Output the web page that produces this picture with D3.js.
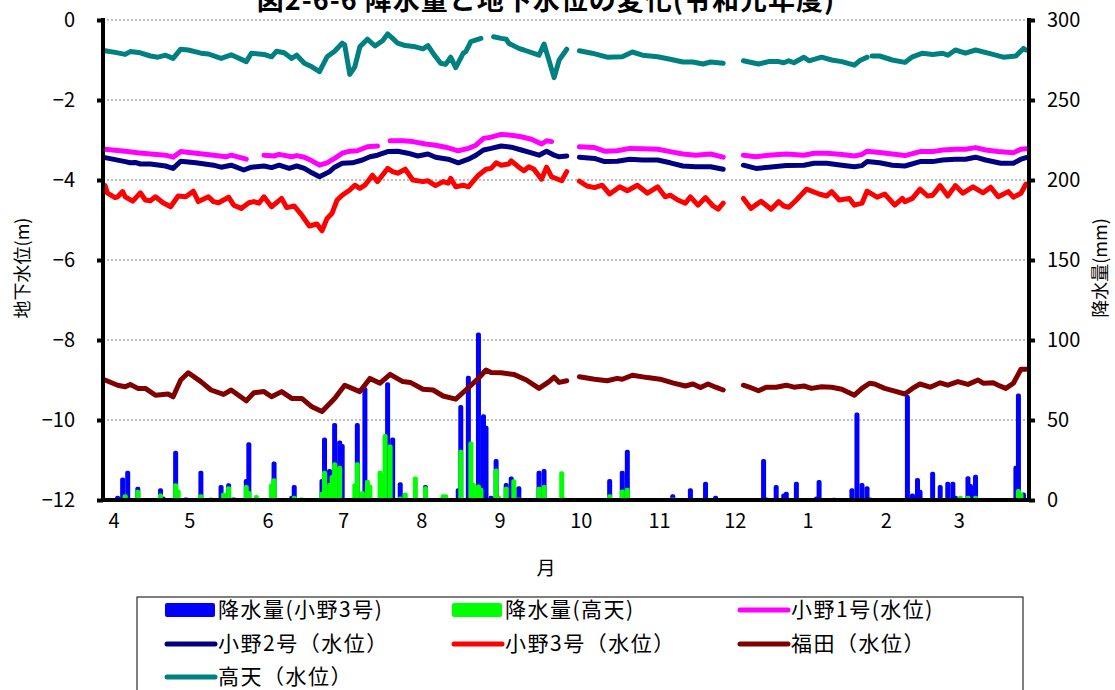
<!DOCTYPE html>
<html><head><meta charset="utf-8">
<script src="https://cdn.jsdelivr.net/npm/d3@7"></script>
<style>
body{margin:0;background:#fff;}
text{font-family:"Noto Sans CJK JP","Noto Sans",sans-serif;fill:#000;}
</style>
</head><body>
<svg id="chart" width="1115" height="690"></svg>
<script>
// ---------- DATA ----------
const titleText = "図2-6-6 降水量と地下水位の変化(令和元年度)";
const monthLabels = ["4","5","6","7","8","9","10","11","12","1","2","3"];
const monthStartDays = [0,30,61,91,122,153,183,214,244,275,306,335];
const levelTicks = [0,-2,-4,-6,-8,-10,-12];
const rainTicks = [0,50,100,150,200,250,300];

// daily rainfall [day index from Apr 1, mm]
const rainOno3 = [[5,2],[7,13.5],[9,17.7],[13,7.7],[22,6.7],[23,1.5],[28,30.2],[32,1],[38,17.7],[46,8.75],[49,9.8],[51,1],[56,12.5],[57,35.4],[67,23.5],[74,2],[75,8.75],[86,12.5],[87,38.5],[89,18.75],[91,47.5],[93,36.5],[94,34.4],[100,47.5],[103,69.8],[112,72.9],[114,38.5],[117,10.4],[127,8.75],[140,6.7],[141,58.75],[144,77],[148,104],[150,53],[151,45.8],[153,2],[155,25],[159,10],[161,14],[164,8],[172,17.7],[174,18.75],[200,12.5],[205,17.7],[207,30.8],[225,3],[232,6.7],[238,10.8],[242,2],[261,25],[262,1],[266,8.75],[269,3.5],[270,4.6],[274,10.8],[282,1.5],[283,11.9],[289,0.8],[296,6.7],[298,54],[300,10],[302,8],[303,1],[318,65],[320,3.5],[322,13.1],[323,5.8],[328,17],[331,8.75],[334,10.8],[336,10.8],[337,2],[342,14.2],[343,9.4],[345,15.2],[361,20.8],[362,66],[364,4]];
const rainTakama = [[8,3],[13,5.8],[22,3.5],[28,9.8],[29,6],[38,3],[42,1],[47,4],[49,7.9],[56,8.75],[57,5],[60,2.5],[66,9.8],[67,12.9],[75,2],[78,1],[86,4.5],[87,17.7],[89,10],[90,15],[91,22.9],[93,20.8],[99,9.8],[100,22.9],[102,5],[104,12],[105,9],[109,17.7],[110,16],[111,40.6],[113,34],[117,1.5],[119,4],[123,14],[127,8],[134,3],[135,3],[141,30.8],[145,36],[146,10],[148,9],[149,7],[155,19],[156,2],[159,7.7],[162,12.3],[164,1],[172,7.7],[174,8.75],[181,17.3],[182,1],[200,3],[205,6],[207,7],[225,1],[226,0.5],[228,0.5],[232,0.5],[339,2],[342,2],[345,2],[350,0.5],[362,6.25],[363,4]];

// groundwater level [day index, m]; null = missing
const levelOno1 = [[0,-3.23],[8,-3.28],[13,-3.32],[18,-3.35],[24,-3.38],[27,-3.43],[30,-3.29],[36,-3.33],[43,-3.38],[48,-3.42],[50,-3.38],[56,-3.48],[59,null],[63,-3.38],[67,-3.4],[69,-3.36],[74,-3.42],[76,-3.39],[79,-3.43],[82,-3.52],[85,-3.63],[88,-3.57],[91,-3.46],[94,-3.33],[97,-3.28],[100,-3.27],[104,-3.17],[108,-3.15],[110,null],[113,-3.02],[118,-3.02],[122,-3.04],[127,-3.1],[131,-3.13],[135,-3.18],[140,-3.27],[144,-3.21],[147,-3.13],[150,-2.96],[153,-2.93],[157,-2.86],[161,-2.88],[165,-2.92],[169,-2.98],[173,-3.1],[175,-3.02],[177,-3.04],[178,null],[188,-3.17],[194,-3.19],[198,-3.28],[203,-3.27],[208,-3.21],[213,-3.22],[219,-3.23],[224,-3.29],[229,-3.35],[234,-3.38],[240,-3.35],[245,-3.43],[246,null],[253,-3.38],[258,-3.42],[263,-3.38],[270,-3.35],[277,-3.38],[281,-3.33],[286,-3.33],[292,-3.36],[297,-3.4],[300,-3.36],[302,-3.28],[307,-3.31],[312,-3.35],[317,-3.39],[323,-3.29],[328,-3.29],[332,-3.25],[337,-3.23],[341,-3.23],[345,-3.19],[349,-3.25],[354,-3.29],[360,-3.32],[363,-3.23],[365,-3.22]];
const levelOno2 = [[0,-3.44],[8,-3.54],[10,-3.57],[12,-3.56],[14,-3.6],[18,-3.6],[24,-3.65],[27,-3.71],[30,-3.53],[36,-3.57],[43,-3.63],[46,-3.68],[50,-3.63],[55,-3.75],[58,-3.68],[63,-3.65],[66,-3.69],[69,-3.63],[73,-3.71],[76,-3.65],[79,-3.71],[82,-3.82],[85,-3.92],[89,-3.79],[91,-3.68],[94,-3.58],[98,-3.57],[102,-3.5],[105,-3.42],[108,-3.38],[112,-3.29],[116,-3.28],[120,-3.33],[124,-3.4],[128,-3.35],[131,-3.43],[136,-3.48],[140,-3.57],[144,-3.48],[147,-3.38],[150,-3.25],[153,-3.21],[157,-3.15],[161,-3.18],[165,-3.25],[169,-3.32],[172,-3.38],[175,-3.28],[178,-3.38],[180,-3.42],[183,-3.4],[184,null],[188,-3.43],[194,-3.46],[198,-3.54],[203,-3.53],[208,-3.48],[213,-3.5],[219,-3.5],[224,-3.57],[229,-3.65],[234,-3.67],[240,-3.67],[245,-3.73],[246,null],[253,-3.63],[258,-3.71],[263,-3.68],[270,-3.64],[277,-3.63],[281,-3.58],[286,-3.58],[292,-3.63],[297,-3.67],[300,-3.64],[302,-3.54],[307,-3.57],[312,-3.63],[317,-3.65],[323,-3.54],[328,-3.54],[332,-3.5],[337,-3.48],[341,-3.48],[345,-3.43],[349,-3.5],[355,-3.58],[360,-3.58],[363,-3.48],[365,-3.44]];
const levelOno3 = [[0,-4.14],[1,-4.33],[4,-4.44],[5,-4.42],[7,-4.29],[8,-4.42],[11,-4.53],[14,-4.32],[16,-4.5],[18,-4.52],[20,-4.42],[23,-4.57],[26,-4.67],[29,-4.4],[32,-4.42],[35,-4.28],[37,-4.54],[41,-4.42],[43,-4.54],[45,-4.57],[49,-4.43],[51,-4.63],[54,-4.71],[57,-4.57],[59,-4.54],[61,-4.58],[63,-4.42],[66,-4.67],[70,-4.46],[72,-4.69],[75,-4.65],[78,-4.88],[81,-5.15],[84,-5.1],[86,-5.27],[88,-4.96],[90,-4.83],[92,-4.5],[94,-4.38],[97,-4.25],[99,-4.13],[101,-4.21],[103,-4.13],[106,-3.88],[108,-4.04],[112,-3.71],[114,-3.79],[116,-3.83],[119,-3.73],[122,-4.0],[126,-4.04],[128,-4.02],[131,-4.14],[134,-4.04],[136,-4.08],[137,-3.96],[139,-4.17],[142,-4.13],[144,-4.17],[148,-3.88],[151,-3.73],[153,-3.71],[155,-3.57],[157,-3.63],[160,-3.6],[161,-3.52],[164,-3.68],[166,-3.77],[168,-3.67],[170,-3.73],[173,-3.98],[175,-3.68],[177,-3.92],[181,-4.02],[183,-3.79],[184,null],[188,-4.03],[191,-4.15],[194,-4.19],[197,-4.13],[200,-4.35],[204,-4.17],[207,-4.27],[211,-4.13],[215,-4.33],[219,-4.17],[222,-4.42],[224,-4.38],[227,-4.5],[230,-4.58],[232,-4.42],[235,-4.63],[238,-4.44],[241,-4.65],[243,-4.73],[245,-4.58],[246,null],[253,-4.46],[256,-4.71],[260,-4.53],[264,-4.73],[267,-4.54],[269,-4.65],[271,-4.68],[274,-4.5],[278,-4.23],[283,-4.35],[286,-4.4],[288,-4.29],[291,-4.5],[295,-4.46],[297,-4.63],[300,-4.58],[302,-4.28],[306,-4.43],[309,-4.35],[313,-4.63],[316,-4.46],[317,-4.54],[320,-4.46],[323,-4.23],[326,-4.4],[328,-4.38],[331,-4.14],[334,-4.4],[337,-4.14],[340,-4.33],[344,-4.17],[348,-4.32],[351,-4.18],[354,-4.42],[358,-4.29],[360,-4.43],[363,-4.33],[365,-4.1]];
const levelFukuda = [[0,-9.0],[5,-9.13],[8,-9.17],[10,-9.11],[13,-9.21],[16,-9.21],[20,-9.38],[25,-9.35],[27,-9.42],[30,-9.0],[33,-8.82],[38,-9.04],[42,-9.25],[47,-9.36],[50,-9.25],[56,-9.52],[59,-9.32],[63,-9.29],[66,-9.42],[70,-9.29],[74,-9.46],[78,-9.46],[82,-9.67],[86,-9.79],[91,-9.46],[95,-9.13],[101,-9.29],[105,-8.96],[109,-9.08],[113,-8.86],[118,-9.04],[121,-9.06],[126,-9.23],[130,-9.25],[134,-9.4],[139,-9.48],[143,-9.25],[148,-8.96],[151,-8.75],[153,-8.81],[157,-8.82],[162,-8.86],[167,-9.0],[172,-9.21],[176,-9.04],[178,-8.93],[180,-9.06],[183,-9.02],[184,null],[188,-8.92],[194,-8.98],[199,-9.02],[203,-8.96],[205,-8.98],[209,-8.88],[215,-8.94],[220,-8.98],[225,-9.07],[230,-9.15],[233,-9.1],[236,-9.19],[239,-9.1],[242,-9.18],[245,-9.25],[246,null],[253,-9.13],[255,-9.17],[259,-9.27],[262,-9.18],[266,-9.18],[270,-9.13],[273,-9.18],[277,-9.15],[280,-9.21],[284,-9.17],[288,-9.18],[292,-9.23],[297,-9.38],[300,-9.21],[303,-9.08],[305,-9.1],[309,-9.21],[313,-9.28],[317,-9.35],[320,-9.21],[323,-9.1],[327,-9.18],[331,-9.07],[334,-9.13],[338,-9.04],[342,-9.11],[346,-9.0],[348,-9.08],[352,-9.07],[354,-9.13],[357,-9.21],[360,-9.08],[363,-8.73],[365,-8.73]];
const levelTakama = [[0,-0.77],[4,-0.81],[8,-0.86],[10,-0.79],[14,-0.82],[18,-0.9],[21,-0.93],[24,-0.88],[27,-0.96],[30,-0.73],[33,-0.75],[38,-0.83],[41,-0.85],[46,-0.96],[50,-0.87],[56,-1.04],[58,-0.83],[63,-0.86],[66,-0.92],[68,-0.78],[71,-0.82],[74,-0.96],[76,-0.88],[79,-1.08],[82,-1.17],[85,-1.29],[88,-0.92],[91,-0.78],[94,-0.58],[95,-0.62],[97,-1.36],[99,-1.17],[101,-0.67],[104,-0.48],[107,-0.65],[110,-0.52],[112,-0.35],[114,-0.46],[116,-0.58],[119,-0.64],[123,-0.67],[126,-0.72],[128,-0.64],[130,-0.83],[133,-1.08],[135,-1.11],[137,-0.93],[139,-1.19],[142,-0.83],[143,-0.79],[145,-0.54],[149,-0.46],[150,null],[154,-0.42],[157,-0.46],[159,-0.48],[160,-0.58],[164,-0.71],[166,-0.75],[172,-0.88],[174,-0.6],[178,-1.44],[180,-1.0],[183,-0.73],[184,null],[188,-0.77],[193,-0.83],[199,-0.93],[205,-0.92],[209,-0.8],[213,-0.88],[219,-0.92],[224,-0.98],[229,-1.05],[233,-1.05],[237,-1.1],[240,-1.05],[245,-1.08],[246,null],[253,-1.02],[259,-1.1],[263,-1.04],[267,-1.04],[269,-1.07],[271,-1.02],[273,-1.07],[277,-0.93],[279,-1.02],[284,-0.93],[288,-1.0],[292,-1.04],[297,-1.13],[299,-1.02],[302,-0.93],[303,null],[304,-0.9],[307,-0.9],[312,-1.0],[317,-1.06],[320,-0.92],[324,-0.83],[328,-0.86],[332,-0.83],[334,-0.88],[337,-0.75],[341,-0.83],[345,-0.75],[350,-0.83],[356,-0.93],[361,-0.9],[364,-0.71],[365,-0.75]];

const legendLabels = ["降水量(小野3号)","降水量(高天)","小野1号(水位)","小野2号（水位）","小野3号（水位）","福田（水位）","高天（水位）"];

// ---------- STYLE / LAYOUT ----------
const plot = {left:103, right:1029, top:20, bottom:500};
const barColors = ["#0000FF","#00FF00"];
const lineColors = {ono1:"#FF00FF", ono2:"#000080", ono3:"#FF0000", fukuda:"#800000", takama:"#008080"};

const svg = d3.select("#chart");
const x = d3.scaleLinear().domain([0,365]).range([105,1026]);
const yL = d3.scaleLinear().domain([-12,0]).range([plot.bottom, plot.top]);
const yR = d3.scaleLinear().domain([0,300]).range([plot.bottom, plot.top]);

// title (partially clipped at the top, as in the reference)
svg.append("text").attr("x",546).attr("y",10).attr("text-anchor","middle")
  .style("font-size","27px").style("font-weight","bold").style("letter-spacing","1px").text(titleText);

// grid lines
svg.append("g").selectAll("line").data(levelTicks.filter(d=>d>-12)).join("line")
  .attr("x1",plot.left).attr("x2",plot.right)
  .attr("y1",d=>yL(d)).attr("y2",d=>yL(d))
  .attr("stroke","#808080").attr("stroke-width",1).attr("stroke-dasharray","2,2");

// bars
const barW = 5;
function drawBars(data,color){
  svg.append("g").selectAll("rect").data(data).join("rect")
    .attr("x",d=>x(d[0])-barW/2).attr("width",barW)
    .attr("y",d=>yR(d[1])-1).attr("height",d=>yR(0)-yR(d[1])+1)
    .attr("rx",2).attr("fill",color);
}
drawBars(rainOno3,barColors[0]);
drawBars(rainTakama,barColors[1]);

// lines
const line = d3.line().defined(d=>d[1]!==null).x(d=>x(d[0])).y(d=>yL(d[1]));
[[levelOno1,lineColors.ono1],[levelOno2,lineColors.ono2],[levelOno3,lineColors.ono3],[levelFukuda,lineColors.fukuda],[levelTakama,lineColors.takama]]
 .forEach(([data,c])=>{
   svg.append("path").datum(data).attr("d",line).attr("fill","none")
     .attr("stroke",c).attr("stroke-width",5)
     .attr("stroke-linejoin","round").attr("stroke-linecap","round");
 });

// axes
const axL = d3.axisLeft(yL).tickValues(levelTicks).tickSize(6).tickPadding(22).tickFormat(d3.format("d"));
const gL = svg.append("g").attr("transform",`translate(${plot.left},0)`).call(axL);
const axR = d3.axisRight(yR).tickValues(rainTicks).tickSize(6).tickPadding(12).tickFormat(d3.format("d"));
const gR = svg.append("g").attr("transform",`translate(${plot.right},0)`).call(axR);
[gL,gR].forEach(g=>{
  g.select(".domain").remove();
  g.selectAll(".tick line").attr("stroke","#000").attr("stroke-width",4);
  g.selectAll(".tick text").style("font-size","20px").attr("fill","#000")
    .style("font-family",'"Noto Sans CJK JP",sans-serif');
});
// axis lines
svg.append("line").attr("x1",plot.left).attr("x2",plot.left).attr("y1",plot.top-2).attr("y2",plot.bottom+2)
  .attr("stroke","#000").attr("stroke-width",4);
svg.append("line").attr("x1",plot.right).attr("x2",plot.right).attr("y1",plot.top-2).attr("y2",plot.bottom+2)
  .attr("stroke","#000").attr("stroke-width",4);
svg.append("line").attr("x1",plot.left-2).attr("x2",plot.right+2).attr("y1",plot.bottom).attr("y2",plot.bottom)
  .attr("stroke","#000").attr("stroke-width",4);

// month labels
const axB = d3.axisBottom(x).tickValues(monthStartDays).tickSize(0).tickPadding(0)
  .tickFormat((d,i)=>monthLabels[i]);
const gB = svg.append("g").attr("transform",`translate(0,${plot.bottom})`).call(axB);
gB.select(".domain").remove();
gB.selectAll(".tick text").attr("text-anchor","start").attr("dx",3).attr("y",14)
  .style("font-size","20px").attr("fill","#000").style("font-family",'"Noto Sans CJK JP",sans-serif');

// axis titles
svg.append("text").attr("transform","translate(29,268) rotate(-90)").attr("text-anchor","middle")
  .style("font-size","18px").text("地下水位(m)");
svg.append("text").attr("transform","translate(1107,268) rotate(-90)").attr("text-anchor","middle")
  .style("font-size","18px").text("降水量(mm)");
svg.append("text").attr("x",546).attr("y",575).attr("text-anchor","middle")
  .style("font-size","19px").text("月");

// legend
svg.append("rect").attr("x",137).attr("y",597).attr("width",886).attr("height",110)
  .attr("fill","#fff").attr("stroke","#000").attr("stroke-width",1);
const legendSw = [
  {c:barColors[0],bar:true},{c:barColors[1],bar:true},{c:lineColors.ono1},
  {c:lineColors.ono2},{c:lineColors.ono3},{c:lineColors.fukuda},{c:lineColors.takama}];
const colX = [165,452,738], rowY = [610,644,677];
legendLabels.forEach((lab,i)=>{
  const cx = colX[i%3], cy = rowY[Math.floor(i/3)];
  const s = legendSw[i];
  if(s.bar){
    svg.append("rect").attr("x",cx).attr("y",cy-7).attr("width",50).attr("height",14).attr("rx",2).attr("fill",s.c);
  } else {
    svg.append("line").attr("x1",cx+2).attr("x2",cx+50).attr("y1",cy).attr("y2",cy)
      .attr("stroke",s.c).attr("stroke-width",5).attr("stroke-linecap","round");
  }
  svg.append("text").attr("x",cx+53).attr("y",cy).attr("dy","0.34em")
    .style("font-size","21px").style("letter-spacing","1.5px").text(lab);
});
</script>
</body></html>
